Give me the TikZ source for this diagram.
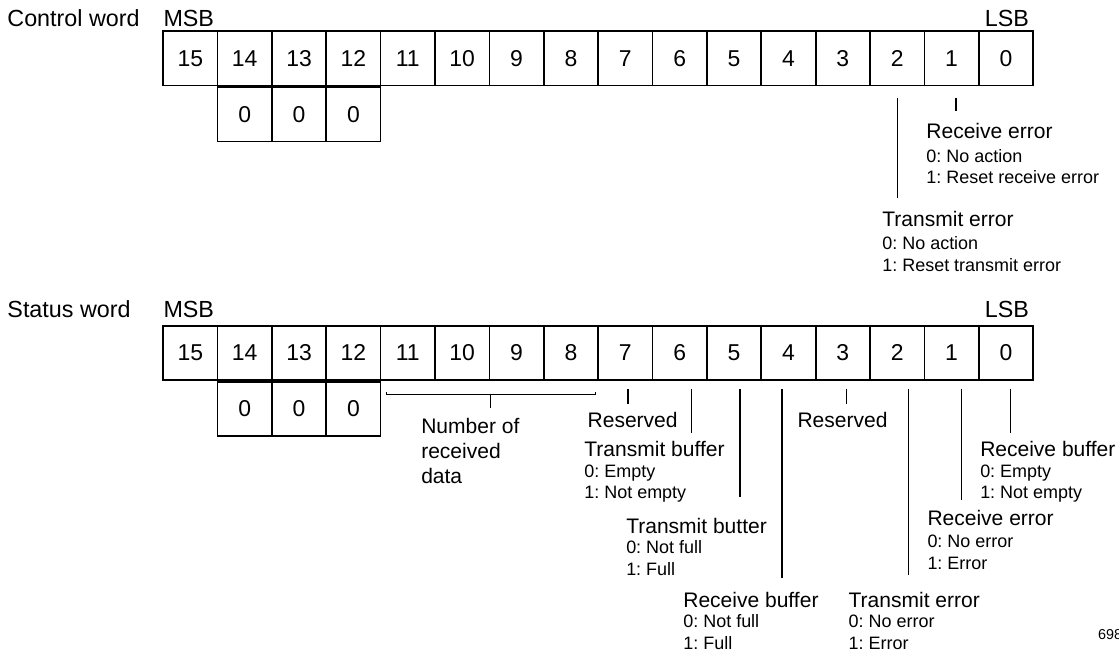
\documentclass[tikz,border=0pt]{standalone}
\usepackage{fontspec}
\setmainfont{Liberation Sans}
\usetikzlibrary{positioning}
\newcommand{\hdtxt}{\fontsize{11}{13}\selectfont}
\frenchspacing

\begin{document}
\begin{tikzpicture}[
  bitcell/.style={draw, line width=0.9pt, minimum width=1cm, minimum height=1cm, inner sep=0pt, font=\fontsize{12}{14}\selectfont},
  wordlbl/.style={anchor=base west, inner sep=0pt, font=\fontsize{12.2}{14}\selectfont},
  lbl/.style={anchor=north west, inner sep=0pt, align=left, font=\fontsize{9.4}{11.3}\selectfont},
  lead/.style={line width=0.6pt}
]
\useasboundingbox (0,0) rectangle (20.579,11.991);

% control word
\node[wordlbl] (ctrl) at (0.13,11.50) {Control word};
\node[wordlbl] (cmsb) at (3.0,11.50) {MSB};
\node[wordlbl, anchor=base east] (clsb) at (18.93,11.50) {LSB};

\node[bitcell] (c15) at (3.5,10.92) {15};
\node[bitcell] (c14) at (4.5,10.92) {14};
\node[bitcell] (c13) at (5.5,10.92) {13};
\node[bitcell] (c12) at (6.5,10.92) {12};
\node[bitcell] (c11) at (7.5,10.92) {11};
\node[bitcell] (c10) at (8.5,10.92) {10};
\node[bitcell] (c9) at (9.5,10.92) {9};
\node[bitcell] (c8) at (10.5,10.92) {8};
\node[bitcell] (c7) at (11.5,10.92) {7};
\node[bitcell] (c6) at (12.5,10.92) {6};
\node[bitcell] (c5) at (13.5,10.92) {5};
\node[bitcell] (c4) at (14.5,10.92) {4};
\node[bitcell] (c3) at (15.5,10.92) {3};
\node[bitcell] (c2) at (16.5,10.92) {2};
\node[bitcell] (c1) at (17.5,10.92) {1};
\node[bitcell] (c0) at (18.5,10.92) {0};
\node[bitcell, below=0pt of c14] (c14z) {0};
\node[bitcell, below=0pt of c13] (c13z) {0};
\node[bitcell, below=0pt of c12] (c12z) {0};

\node[lbl] (crxerr) at (17.03,9.738) {{\hdtxt Receive error}\\[1.2pt]0: No action\\1: Reset receive error};
\node[lbl] (ctxerr) at (16.22,8.120) {{\hdtxt Transmit error}\\[1.2pt]0: No action\\1: Reset transmit error};

\draw[lead] ([yshift=-0.21cm]c2.south) -- ++(0,-1.84);
\draw[lead] ([xshift=0.08cm,yshift=-0.21cm]c1.south) -- ++(0,-0.24);

% status word
\node[wordlbl] (stat) at (0.13,6.143) {Status word};
\node[wordlbl] (smsb) at (3.0,6.143) {MSB};
\node[wordlbl, anchor=base east] (slsb) at (18.93,6.143) {LSB};

\node[bitcell] (s15) at (3.5,5.5) {15};
\node[bitcell] (s14) at (4.5,5.5) {14};
\node[bitcell] (s13) at (5.5,5.5) {13};
\node[bitcell] (s12) at (6.5,5.5) {12};
\node[bitcell] (s11) at (7.5,5.5) {11};
\node[bitcell] (s10) at (8.5,5.5) {10};
\node[bitcell] (s9) at (9.5,5.5) {9};
\node[bitcell] (s8) at (10.5,5.5) {8};
\node[bitcell] (s7) at (11.5,5.5) {7};
\node[bitcell] (s6) at (12.5,5.5) {6};
\node[bitcell] (s5) at (13.5,5.5) {5};
\node[bitcell] (s4) at (14.5,5.5) {4};
\node[bitcell] (s3) at (15.5,5.5) {3};
\node[bitcell] (s2) at (16.5,5.5) {2};
\node[bitcell] (s1) at (17.5,5.5) {1};
\node[bitcell] (s0) at (18.5,5.5) {0};
\node[bitcell, below=0pt of s14] (s14z) {0};
\node[bitcell, below=0pt of s13] (s13z) {0};
\node[bitcell, below=0pt of s12] (s12z) {0};

\node[lbl, font=\fontsize{11}{13.3}\selectfont] (numdata) at (7.74,4.313) {Number of\\received\\data};
\node[lbl, font=\hdtxt] (res7) at (10.80,4.423) {Reserved};
\node[lbl, font=\hdtxt] (res3) at (14.66,4.423) {Reserved};
\node[lbl] (txbuf) at (10.74,3.881) {{\hdtxt Transmit buffer}\\[-0.6pt]0: Empty\\1: Not empty};
\node[lbl] (rxbufe) at (18.02,3.881) {{\hdtxt Receive buffer}\\[-0.6pt]0: Empty\\1: Not empty};
\node[lbl] (txfull) at (11.51,2.474) {{\hdtxt Transmit butter}\\[-0.6pt]0: Not full\\1: Full};
\node[lbl] (srxerr) at (17.05,2.621) {{\hdtxt Receive error}\\[0.5pt]0: No error\\1: Error};
\node[lbl] (rxfull) at (12.56,1.113) {{\hdtxt Receive buffer}\\[-0.6pt]0: Not full\\1: Full};
\node[lbl] (stxerr) at (15.60,1.113) {{\hdtxt Transmit error}\\[-0.6pt]0: No error\\1: Error};
\node[wordlbl, font=\fontsize{7.5}{9}\selectfont] (fignum) at (20.19,0.239) {698};

\draw[lead] ([xshift=0.12cm,yshift=-0.2cm]s11.south west) -- ++(0,-0.055) -| ([xshift=-0.06cm,yshift=-0.2cm]s8.south east);
\draw[lead] ([yshift=-0.255cm]s10.south east) -- ++(0,-0.24);
\draw[lead] ([xshift=0.05cm,yshift=-0.145cm]s7.south) -- ++(0,-0.276);
\draw[lead] ([xshift=0.21cm,yshift=-0.145cm]s6.south) -- ++(0,-0.809);
\draw[lead] ([xshift=0.11cm,yshift=-0.145cm]s5.south) -- ++(0,-1.986);
\draw[lead] ([xshift=-0.12cm,yshift=-0.145cm]s4.south) -- ++(0,-3.475);
\draw[lead] ([xshift=0.06cm,yshift=-0.145cm]s3.south) -- ++(0,-0.276);
\draw[lead] ([xshift=0.20cm,yshift=-0.145cm]s2.south) -- ++(0,-3.42);
\draw[lead] ([xshift=0.19cm,yshift=-0.145cm]s1.south) -- ++(0,-2.041);
\draw[lead] ([xshift=0.09cm,yshift=-0.145cm]s0.south) -- ++(0,-0.809);
\end{tikzpicture}
\end{document}
